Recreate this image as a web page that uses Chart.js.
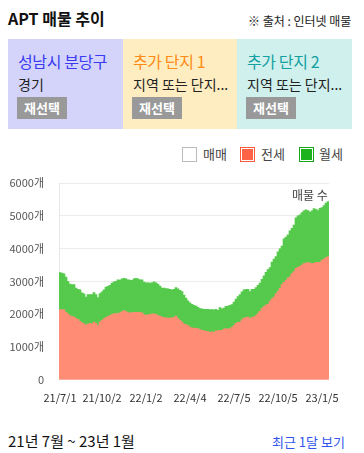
<!DOCTYPE html>
<html><head><meta charset="utf-8">
<script src="https://cdn.jsdelivr.net/npm/chart.js@4"></script>
<style>
html,body{margin:0;padding:0;background:#fff;width:364px;height:453px;overflow:hidden;font-family:"Noto Sans CJK KR","Noto Sans",sans-serif;}
.abs{position:absolute;white-space:nowrap;line-height:1;}
.card{position:absolute;top:39px;height:90px;width:115px;}
.ct{position:absolute;left:10px;top:14px;font-size:16px;line-height:1;letter-spacing:-0.4px;}
.cs{position:absolute;left:10px;top:38px;font-size:14px;line-height:1;color:#222;}
.btn{position:absolute;left:9px;top:58px;width:50px;height:22px;background:#999;color:#fff;font-size:13px;font-weight:bold;line-height:22px;text-align:center;}
.lg{position:absolute;top:147px;width:13px;height:13px;}
.lt{position:absolute;top:146px;font-size:13px;color:#444;line-height:16px;}
</style></head>
<body>
<div class="abs" style="left:8px;top:10px;font-size:16px;font-weight:bold;color:#111;">APT 매물 추이</div>
<div class="abs" style="left:248px;top:15px;font-size:12px;color:#222;">※ 출처 : 인터넷 매물</div>

<div class="card" style="left:8px;background:#d4d4fb;">
  <div class="ct" style="color:#3a3af2;">성남시 분당구</div>
  <div class="cs">경기</div>
  <div class="btn">재선택</div>
</div>
<div class="card" style="left:123px;width:114px;background:#ffedc2;">
  <div class="ct" style="color:#ff8a14;">추가 단지 1</div>
  <div class="cs">지역 또는 단지...</div>
  <div class="btn">재선택</div>
</div>
<div class="card" style="left:237px;background:#d0f0ee;">
  <div class="ct" style="color:#14a0a0;">추가 단지 2</div>
  <div class="cs">지역 또는 단지...</div>
  <div class="btn">재선택</div>
</div>

<div class="lg" style="left:182px;background:#fff;border:1px solid #bbb;"></div>
<div class="lt" style="left:203px;">매매</div>
<div class="lg" style="left:240px;background:#ff6347;border:1px solid #ff5a3a;box-shadow:inset 0 0 0 1px #fff;"></div>
<div class="lt" style="left:261px;">전세</div>
<div class="lg" style="left:299px;background:#1db31d;border:1px solid #17a817;box-shadow:inset 0 0 0 1px #fff;"></div>
<div class="lt" style="left:319px;">월세</div>

<div style="position:absolute;left:0;top:140px;width:364px;height:275px;">
<canvas id="c" width="364" height="275" style="width:364px;height:275px;"></canvas>
</div>

<div class="abs" style="left:8px;top:433px;font-size:15px;color:#111;">21년 7월 ~ 23년 1월</div>
<div class="abs" style="left:272px;top:435px;font-size:13px;color:#3355ee;">최근 1달 보기</div>

<script>
const tickLabels = ['21/7/1','21/10/2','22/1/2','22/4/4','22/7/5','22/10/5','23/1/5'];
const tickIndex = [0,21,43,65,87,109,131];
const yTicks = [0,1000,2000,3000,4000,5000,6000];

const jeonse = [2140,2140,2130,2060,2000,1950,1930,1910,1870,1840,1780,1740,1710,1670,1700,1720,1700,1760,1720,1650,
1760,1810,1860,1900,1930,1960,1990,2010,2020,2020,2040,2070,2110,2080,2050,2040,2040,2060,2060,2060,
2050,2040,1990,1960,1980,1990,2000,2010,1990,1960,1940,1910,1900,1890,1880,1880,1890,1900,1940,1870,
1810,1760,1700,1680,1650,1610,1580,1580,1570,1560,1530,1510,1500,1480,1470,1450,1460,1450,1490,1500,
1500,1510,1550,1560,1550,1560,1600,1650,1720,1750,1760,1830,1880,1900,1910,1870,1900,1920,1950,2020,
2090,2170,2230,2280,2300,2400,2470,2520,2620,2700,2790,2900,2970,3030,3100,3140,3240,3300,3400,3430,
3460,3500,3540,3560,3570,3560,3540,3550,3580,3570,3580,3650,3680,3730,3750];

const wolse = [1130,1110,1100,1070,1000,970,970,990,930,920,960,910,910,850,900,880,900,900,880,860,
870,870,880,930,920,920,960,980,980,1030,1000,1010,980,1000,1000,1000,990,1020,1030,1020,
1000,1010,990,1000,980,960,960,980,970,960,920,890,900,890,890,880,850,860,870,900,
920,930,880,810,760,740,720,690,680,650,640,650,650,670,680,690,680,680,660,620,
700,650,640,680,700,710,690,720,740,790,840,850,860,860,850,820,860,840,860,860,
860,890,940,1000,1060,1020,1120,1160,1140,1200,1200,1180,1330,1320,1320,1400,1380,1420,1540,1570,
1570,1600,1610,1620,1590,1550,1610,1670,1620,1590,1650,1600,1630,1660,1680];

const categories = jeonse.map((_, i) => {
  const k = tickIndex.indexOf(i);
  return k >= 0 ? tickLabels[k] : '';
});

const FONT = '"Noto Sans CJK KR","Noto Sans",sans-serif';

const titlePlugin = {
  id: 'cornerTitle',
  afterDatasetsDraw(chart) {
    const {ctx, chartArea} = chart;
    ctx.save();
    ctx.beginPath();
    ctx.rect(chartArea.left, chartArea.top, chartArea.right - chartArea.left, chartArea.bottom - chartArea.top);
    ctx.clip();
    ctx.font = '12px ' + FONT;
    ctx.fillStyle = '#444';
    ctx.textAlign = 'left';
    ctx.textBaseline = 'middle';
    ctx.fillText('매물 수', chartArea.left + 233, chartArea.top + 12);
    ctx.restore();
  }
};

new Chart(document.getElementById('c'), {
  type: 'bar',
  data: {
    labels: categories,
    datasets: [
      {label: '전세', data: jeonse, backgroundColor: 'rgb(255,140,116)', borderWidth: 0, barPercentage: 1, categoryPercentage: 1},
      {label: '월세', data: wolse, backgroundColor: 'rgb(86,202,76)', borderWidth: 0, barPercentage: 1, categoryPercentage: 1}
    ]
  },
  options: {
    responsive: false,
    devicePixelRatio: 1,
    animation: false,
    layout: {padding: {left: 0, right: 35, top: 43, bottom: 0}},
    plugins: {legend: {display: false}, tooltip: {enabled: false}},
    scales: {
      x: {
        stacked: true,
        grid: {display: false, drawTicks: false},
        border: {display: false},
        ticks: {autoSkip: false, maxRotation: 0, minRotation: 0, padding: 11,
          font: {size: 11, family: FONT}, color: '#333'}
      },
      y: {
        stacked: true,
        min: 0, max: 6000,
        afterBuildTicks(axis) { axis.ticks = yTicks.map(v => ({value: v})); },
        afterFit(axis) { axis.width = 59; },
        grid: {color: '#ececec', drawTicks: false},
        border: {display: true, color: '#e6e6e6'},
        ticks: {padding: 15, font: {size: 11, family: FONT}, color: '#555',
          callback: v => v === 0 ? '0' : v + '개'}
      }
    }
  },
  plugins: [titlePlugin]
});
</script>
</body></html>
